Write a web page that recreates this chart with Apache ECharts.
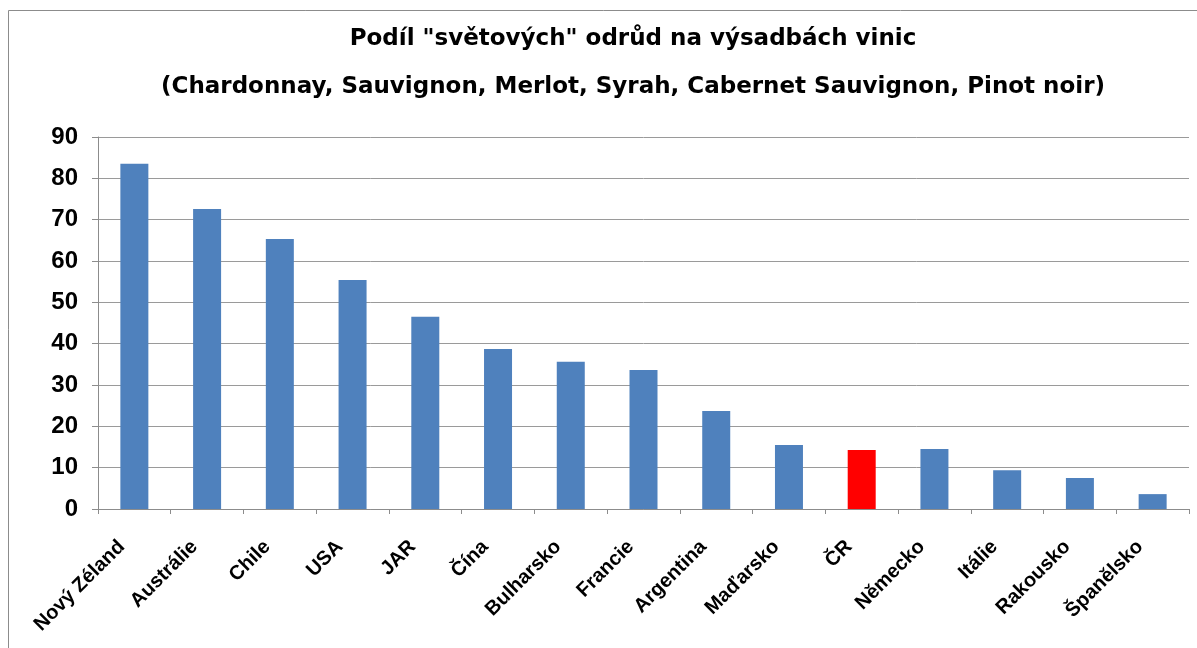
<!DOCTYPE html>
<html lang="cs">
<head>
<meta charset="utf-8">
<script src="https://cdn.jsdelivr.net/npm/echarts@6/dist/echarts.min.js"></script>
<style>
  html, body { margin: 0; padding: 0; background: #fff; }
  #main { width: 1197px; height: 648px; }
</style>
</head>
<body>
<div id="main"></div>
<script>
// data
const countries = ['Nový Zéland', 'Austrálie', 'Chile', 'USA', 'JAR', 'Čína', 'Bulharsko', 'Francie',
  'Argentina', 'Maďarsko', 'ČR', 'Německo', 'Itálie', 'Rakousko', 'Španělsko'];
const shares = [83.5, 72.6, 65.3, 55.4, 46.5, 38.7, 35.6, 33.6, 23.7, 15.5, 14.3, 14.5, 9.4, 7.5, 3.6];
const highlight = 'ČR';

const titleText = 'Podíl "světových" odrůd na výsadbách vinic';
const subText = '(Chardonnay, Sauvignon, Merlot, Syrah, Cabernet Sauvignon, Pinot noir)';

const FONT = '"Liberation Sans", Arial, sans-serif';
const WIDE = '"DejaVu Sans", sans-serif';

let chart = echarts.init(document.getElementById('main'));

let barData = countries.map(function (c, i) {
  return {
    value: shares[i],
    itemStyle: { color: c === highlight ? '#ff0000' : '#4f81bd' }
  };
});

let option = {
  animation: false,
  backgroundColor: '#fff',
  graphic: [
    {
      type: 'rect',
      shape: { x: 8.5, y: 10.5, width: 1300, height: 800 },
      style: { fill: 'none', stroke: '#8c8c8c', lineWidth: 1 },
      silent: true
    }
  ],
  title: [
    {
      text: titleText,
      left: 628, top: 23, textAlign: 'center',
      textStyle: { fontFamily: WIDE, fontSize: 23, fontWeight: 'bold', color: '#000' }
    },
    {
      text: subText,
      left: 628, top: 71, textAlign: 'center',
      textStyle: { fontFamily: WIDE, fontSize: 23, fontWeight: 'bold', color: '#000' }
    }
  ],
  grid: { left: 98, right: 8, top: 137, bottom: 139, containLabel: false },
  xAxis: {
    type: 'category',
    data: countries,
    axisLine: { lineStyle: { color: '#8c8c8c', width: 1 } },
    axisTick: { show: true, alignWithLabel: false, length: 5, lineStyle: { color: '#8c8c8c' } },
    axisLabel: {
      interval: 0, rotate: 45, margin: 22,
      padding: [0, 18, 0, 0],
      fontFamily: FONT, fontSize: 20, fontWeight: 'bold', color: '#000'
    }
  },
  yAxis: {
    type: 'value',
    min: 0, max: 90, interval: 10,
    axisLine: { show: true, lineStyle: { color: '#8c8c8c', width: 1 } },
    axisTick: { show: true, length: 6, lineStyle: { color: '#8c8c8c' } },
    splitLine: { lineStyle: { color: '#9a9a9a', width: 1 } },
    axisLabel: {
      margin: 20,
      fontFamily: FONT, fontSize: 24, fontWeight: 'bold', color: '#000'
    }
  },
  series: [
    {
      type: 'bar',
      data: barData,
      barWidth: 28
    }
  ]
};

chart.setOption(option);
</script>
</body>
</html>
